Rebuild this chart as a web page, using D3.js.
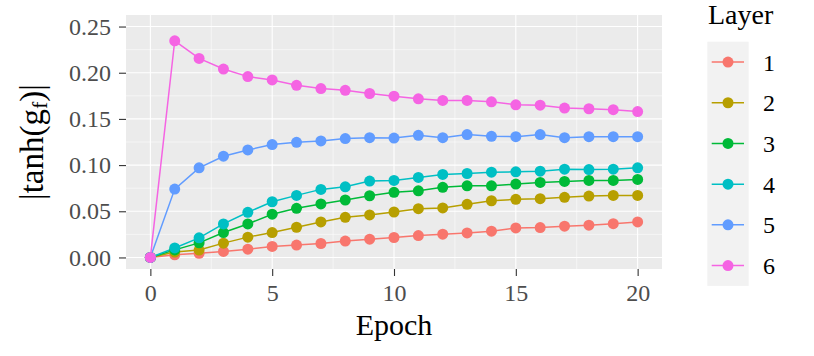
<!DOCTYPE html>
<html>
<head>
<meta charset="utf-8">
<script src="https://cdn.jsdelivr.net/npm/d3@7/dist/d3.min.js"></script>
<style>
  html, body { margin: 0; padding: 0; background: #fff; }
  svg { display: block; }
  svg text { font-family: "Liberation Serif", "DejaVu Serif", serif !important; }
</style>
</head>
<body>
<svg id="chart" width="814" height="356"></svg>
<script>
const epochs = d3.range(0, 21);
const layers = ["1", "2", "3", "4", "5", "6"];
const colors = ["#F8766D", "#B79F00", "#00BA38", "#00BFC4", "#619CFF", "#F564E3"];
const layer1 = [0, 0.0028, 0.0045, 0.0065, 0.009, 0.0119, 0.0134, 0.0151, 0.0177, 0.0198, 0.0216, 0.0237, 0.0252, 0.0266, 0.0284, 0.032, 0.0323, 0.0338, 0.0349, 0.0366, 0.0385];
const layer2 = [0, 0.0058, 0.008, 0.0155, 0.022, 0.027, 0.0327, 0.0385, 0.0435, 0.046, 0.0492, 0.0528, 0.0536, 0.0575, 0.0614, 0.0629, 0.0636, 0.0651, 0.0665, 0.0672, 0.0672];
const layer3 = [0, 0.0082, 0.0158, 0.027, 0.0363, 0.0468, 0.0532, 0.0579, 0.0622, 0.0668, 0.0705, 0.0722, 0.0759, 0.0776, 0.0776, 0.0794, 0.0812, 0.0823, 0.0834, 0.0834, 0.0845];
const layer4 = [0, 0.0103, 0.0212, 0.0363, 0.0489, 0.0603, 0.0672, 0.0737, 0.0765, 0.0827, 0.0834, 0.0866, 0.0899, 0.0909, 0.0923, 0.0927, 0.0934, 0.0956, 0.0952, 0.0956, 0.097];
const layer5 = [0, 0.074, 0.097, 0.1096, 0.1164, 0.1222, 0.1247, 0.1261, 0.1287, 0.1297, 0.1293, 0.1322, 0.1297, 0.133, 0.1311, 0.1308, 0.133, 0.1297, 0.1308, 0.1308, 0.1308];
const layer6 = [0, 0.2346, 0.2155, 0.204, 0.1958, 0.1922, 0.1864, 0.1829, 0.181, 0.1775, 0.1746, 0.1718, 0.170, 0.170, 0.1685, 0.1653, 0.1649, 0.1617, 0.161, 0.160, 0.158];
const xTicks = [0, 5, 10, 15, 20];
const yTicks = [0, 0.05, 0.10, 0.15, 0.20, 0.25];
const series = [layer1, layer2, layer3, layer4, layer5, layer6];

const svg = d3.select("#chart");
const panel = { left: 126, right: 662, top: 15, bottom: 269 };

const x = d3.scaleLinear().domain([-1, 21]).range([panel.left, panel.right]);
const y = d3.scaleLinear().domain([-0.0125, 0.2625]).range([panel.bottom, panel.top]);

// panel background
svg.append("rect")
  .attr("x", panel.left).attr("y", panel.top)
  .attr("width", panel.right - panel.left).attr("height", panel.bottom - panel.top)
  .attr("fill", "#EBEBEB");

// minor grid
const xMinor = [2.5, 7.5, 12.5, 17.5];
const yMinor = [0.025, 0.075, 0.125, 0.175, 0.225];
svg.append("g").selectAll("line").data(xMinor).join("line")
  .attr("x1", d => x(d)).attr("x2", d => x(d))
  .attr("y1", panel.top).attr("y2", panel.bottom)
  .attr("stroke", "#fff").attr("stroke-width", 0.55);
svg.append("g").selectAll("line").data(yMinor).join("line")
  .attr("y1", d => y(d)).attr("y2", d => y(d))
  .attr("x1", panel.left).attr("x2", panel.right)
  .attr("stroke", "#fff").attr("stroke-width", 0.55);
// major grid
svg.append("g").selectAll("line").data(xTicks).join("line")
  .attr("x1", d => x(d)).attr("x2", d => x(d))
  .attr("y1", panel.top).attr("y2", panel.bottom)
  .attr("stroke", "#fff").attr("stroke-width", 1.1);
svg.append("g").selectAll("line").data(yTicks).join("line")
  .attr("y1", d => y(d)).attr("y2", d => y(d))
  .attr("x1", panel.left).attr("x2", panel.right)
  .attr("stroke", "#fff").attr("stroke-width", 1.1);

// axes
const xAxis = d3.axisBottom(x).tickValues(xTicks).tickSize(7).tickPadding(8).tickFormat(d3.format("d"));
const gx = svg.append("g").attr("transform", `translate(0,${panel.bottom})`).call(xAxis);
gx.attr("font-family", null).attr("font-size", 24);
gx.select(".domain").remove();
gx.selectAll(".tick line").attr("stroke", "#333").attr("stroke-width", 1.1);
gx.selectAll(".tick text").attr("fill", "#4D4D4D");

const yAxis = d3.axisLeft(y).tickValues(yTicks).tickSize(7).tickPadding(8).tickFormat(d3.format(".2f"));
const gy = svg.append("g").attr("transform", `translate(${panel.left},0)`).call(yAxis);
gy.attr("font-family", null).attr("font-size", 24);
gy.select(".domain").remove();
gy.selectAll(".tick line").attr("stroke", "#333").attr("stroke-width", 1.1);
gy.selectAll(".tick text").attr("fill", "#4D4D4D");

// lines and points
const line = d3.line().x((d, i) => x(epochs[i])).y(d => y(d));
series.forEach((s, k) => {
  svg.append("path").datum(s)
    .attr("d", line).attr("fill", "none")
    .attr("stroke", colors[k]).attr("stroke-width", 1.5);
});
series.forEach((s, k) => {
  svg.append("g").selectAll("circle").data(s).join("circle")
    .attr("cx", (d, i) => x(epochs[i])).attr("cy", d => y(d))
    .attr("r", 5.5).attr("fill", colors[k]);
});

// axis titles
svg.append("text").attr("x", (panel.left + panel.right) / 2).attr("y", 335)
  .attr("text-anchor", "middle").attr("font-size", 30).attr("fill", "#000")
  .text("Epoch");

const yt = svg.append("text")
  .attr("transform", `translate(43,${(panel.top + panel.bottom) / 2}) rotate(-90)`)
  .attr("text-anchor", "middle").attr("font-size", 33).attr("fill", "#000");
yt.append("tspan").text("|tanh(g");
yt.append("tspan").attr("font-size", 22).attr("dy", 4).text("f");
yt.append("tspan").attr("dy", -4).text(")|");

// legend
const leg = svg.append("g");
leg.append("text").attr("x", 708).attr("y", 24).attr("font-size", 28).attr("fill", "#000").text("Layer");
const keyTop = 41.7, keyH = 40.7;
leg.append("rect").attr("x", 707.3).attr("y", keyTop).attr("width", 41.4).attr("height", keyH * 6)
  .attr("fill", "#F2F2F2");
layers.forEach((l, k) => {
  const cy = keyTop + keyH * k + keyH / 2;
  leg.append("line").attr("x1", 711.7).attr("x2", 744).attr("y1", cy).attr("y2", cy)
    .attr("stroke", colors[k]).attr("stroke-width", 1.5);
  leg.append("circle").attr("cx", 728).attr("cy", cy).attr("r", 5.5).attr("fill", colors[k]);
  leg.append("text").attr("x", 763).attr("y", cy + 8.5).attr("font-size", 24).attr("fill", "#000").text(l);
});
</script>
</body>
</html>
